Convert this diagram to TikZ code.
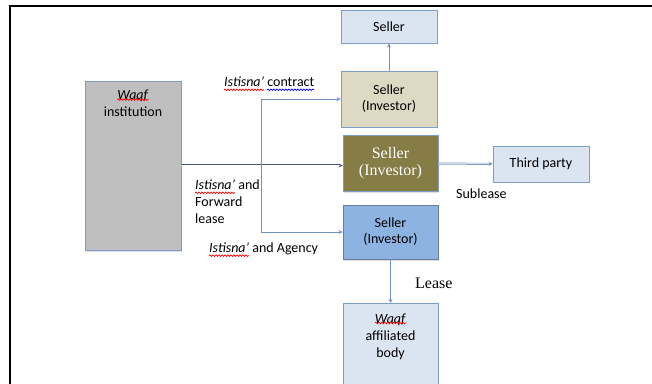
\documentclass[tikz,border=0pt]{standalone}
\usepackage{fontspec}
\usetikzlibrary{arrows.meta,shadows,decorations.pathmorphing}
\setmainfont{Carlito}
\newfontfamily\serifface{Liberation Serif}
\newcommand\wordfont{\fontsize{14}{17}\selectfont}
\definecolor{paleblue}{HTML}{DBE5F1}
\definecolor{edgeblue}{HTML}{7F9DC6}
\definecolor{beige}{HTML}{DDD9C3}
\definecolor{olive}{HTML}{857C46}
\definecolor{midblue}{HTML}{8DB3E2}
\definecolor{linkblue}{HTML}{6F93C4}
\newlength\wIst
\newlength\wCon
\newlength\wWaqf
\begin{document}
\settowidth{\wIst}{\wordfont\textit{Istisna’}}%
\settowidth{\wCon}{\wordfont contract}%
\settowidth{\wWaqf}{\wordfont\textit{Waqf}}%
\begin{tikzpicture}[x=1pt, y=1pt,
    box/.style={draw=edgeblue, line width=0.8pt, minimum width=96pt, align=center,
        font=\fontsize{14}{16}\selectfont, drop shadow={shadow xshift=1pt, shadow yshift=-1.5pt, opacity=0.25}},
    toptext/.style={anchor=north, align=center, font=\fontsize{14}{17}\selectfont},
    txt/.style={font=\wordfont, inner sep=0pt},
    link/.style={draw=linkblue, line width=0.8pt, -{Stealth[length=4pt, width=4pt]}},
    spellmark/.style={red, line width=0.7pt, decoration={snake, amplitude=0.8pt, segment length=3pt}, decorate}]
    \useasboundingbox (0,0) rectangle (652,383);
    \draw[line width=1.6pt] (10,-2) -- (10,377) -- (654,377);
    % boxes
    \node[box, fill=paleblue, minimum height=33pt] (seller) at (389,356.5) {Seller};
    \node[box, fill=beige, minimum height=56pt] (inv1) at (389,284) {Seller\\(Investor)};
    \node[box, fill=olive, minimum height=56pt, minimum width=95pt, text=white,
        font=\serifface\fontsize{16}{17}\selectfont] (inv2) at (390.5,219.5) {Seller\\(Investor)};
    \node[box, fill=midblue, draw=edgeblue!80!black, minimum height=54pt, minimum width=95pt] (inv3) at (390.5,151) {Seller\\(Investor)};
    \node[box, fill=paleblue, minimum height=36pt] (third) at (541,219) {Third party};
    \node[box, fill=paleblue, minimum width=95pt, minimum height=84pt, anchor=north,
        label={[toptext, yshift=-7pt]north:{\textit{Waqf}\\affiliated\\body}}] (affil) at (390.5,80) {};
    \node[box, fill=gray!50, minimum height=169pt,
        label={[toptext, yshift=-6pt]north:{\textit{Waqf}\\institution}}] (inst) at (133,217.5) {};
    % labels
    \node[txt, anchor=west] (lbcontract) at (224,301) {\textit{Istisna’} contract};
    \node[txt, anchor=west, align=left] (lbforward) at (195,181) {\textit{Istisna’} and\\Forward\\lease};
    \node[txt, anchor=west] (lbagency) at (209,134) {\textit{Istisna’} and Agency};
    \node[txt, anchor=west] (lbsub) at (456,189) {Sublease};
    \node[txt, anchor=west, font=\serifface\fontsize{16}{16}\selectfont] (lblease) at (415,100) {Lease};
    % spelling marks
    \draw[spellmark] ([yshift=-3pt]lbcontract.base west) -- ++(\wIst,0pt);
    \draw[spellmark, blue] ([xshift=\wIst+3pt, yshift=-3pt]lbcontract.base west) -- ++(\wCon,0pt);
    \draw[spellmark] ([yshift=31pt]lbforward.base west) -- ++(\wIst,0pt);
    \draw[spellmark] ([yshift=-3pt]lbagency.base west) -- ++(\wIst,0pt);
    \draw[spellmark] ([xshift=-0.5\wWaqf, yshift=-19pt]inst.north) -- ++(\wWaqf,0pt);
    \draw[spellmark] ([xshift=-0.5\wWaqf, yshift=-20pt]affil.north) -- ++(\wWaqf,0pt);
    % connectors
    \coordinate (split) at (261,217.5);
    \draw[link, draw=linkblue!60!black, double=white, double distance=0.8pt, line width=0.6pt] (inst) -- (inv2.west |- split);
    \draw[link] (split) |- (inv1.west);
    \draw[link] (split) |- (inv3.west);
    \draw[link] (inv1) -- (seller);
    \draw[link, double=white, double distance=0.8pt, line width=0.6pt] (inv2) -- (third);
    \draw[link] (inv3) -- (affil);
\end{tikzpicture}
\end{document}
